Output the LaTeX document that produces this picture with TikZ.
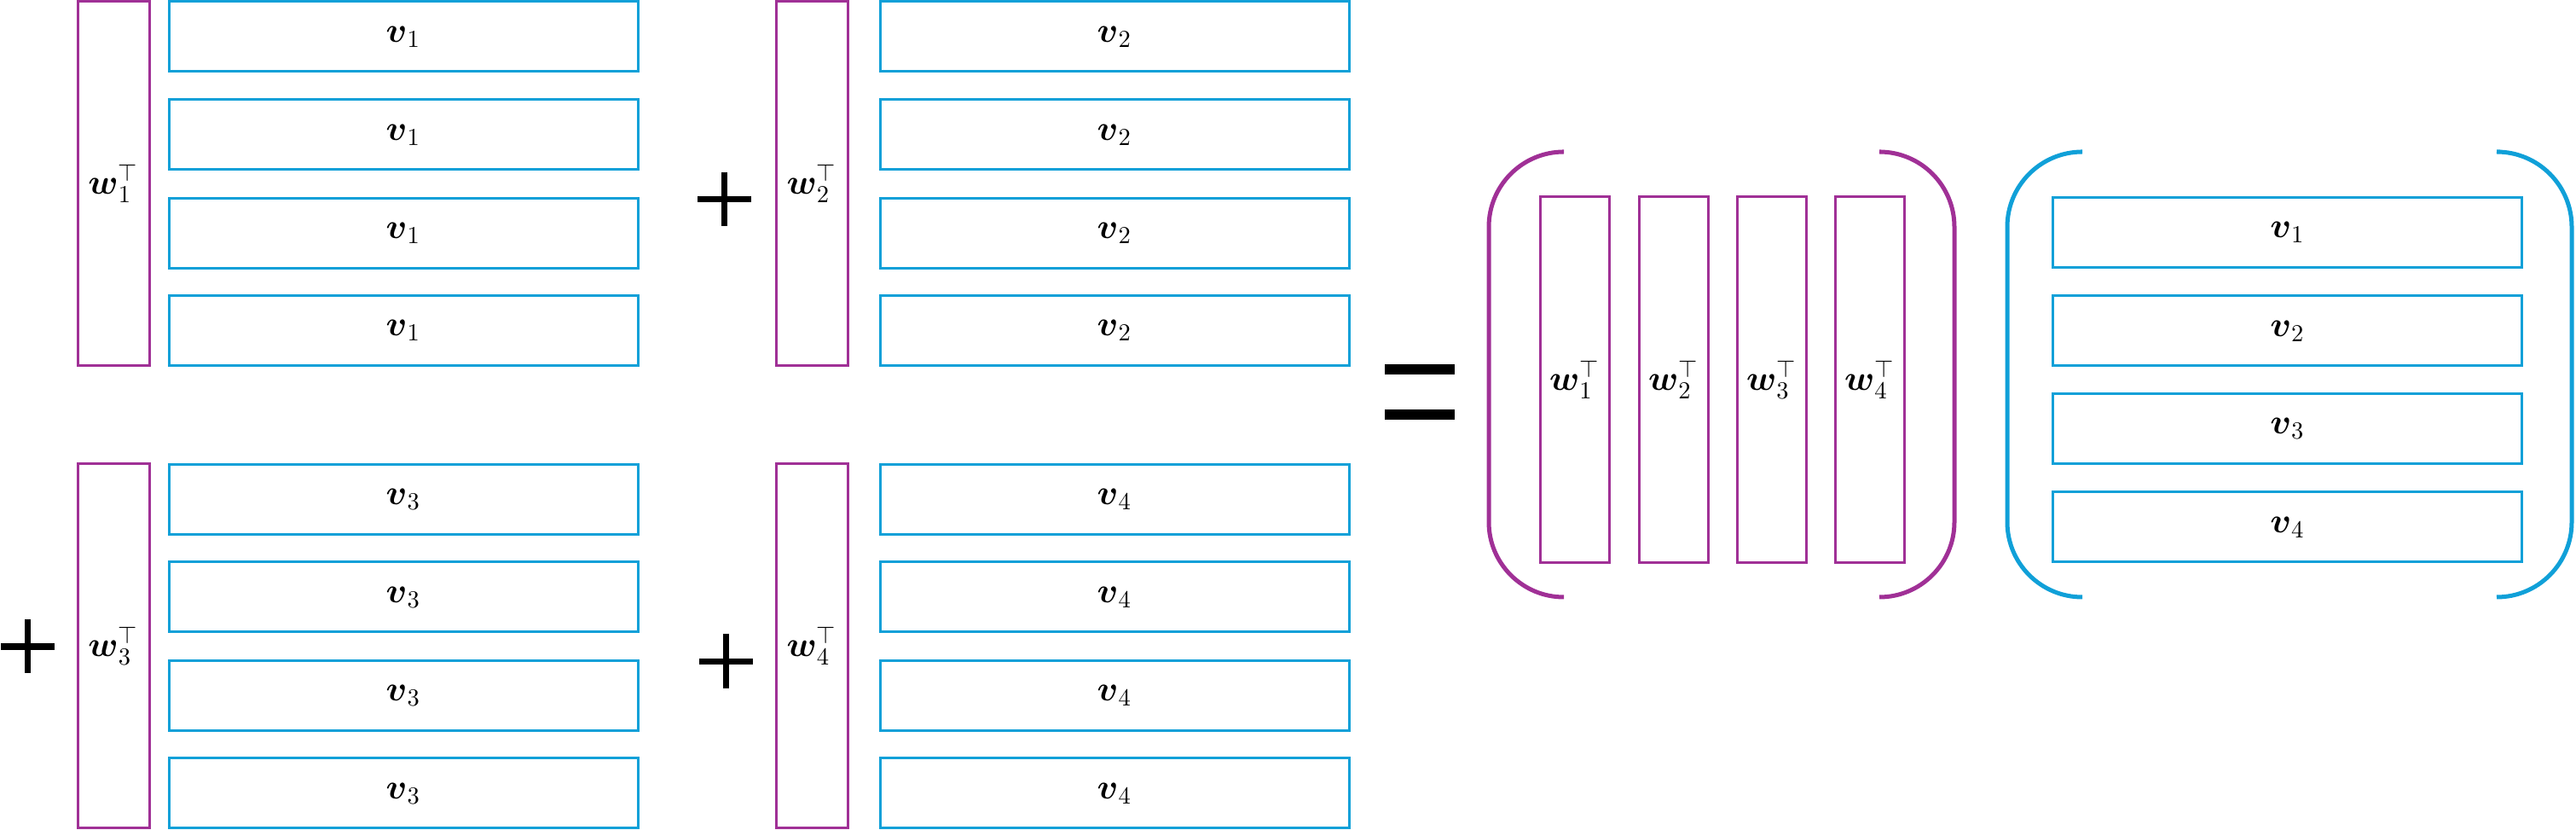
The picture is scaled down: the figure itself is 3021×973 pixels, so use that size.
\documentclass[tikz,border=0pt]{standalone}
\usepackage{amsmath}
\definecolor{wpurple}{RGB}{160,48,150}
\definecolor{vblue}{RGB}{16,160,216}
\newcommand\pxu{0.35pt}
\begin{document}
\begin{tikzpicture}[x=0.35pt,y=-0.35pt,
  wbox/.style={draw=wpurple, line width=1.05pt, minimum width=84*\pxu, minimum height=427*\pxu, inner sep=0pt, font=\Large},
  rwbox/.style={wbox, minimum width=81*\pxu, minimum height=429*\pxu},
  vbox/.style={draw=vblue, line width=1.05pt, minimum width=550*\pxu, minimum height=82*\pxu, inner sep=0pt, font=\Large},
  opline/.style={line width=2.6pt, black},
  eqbar/.style={fill=black},
  paren/.style={line width=1.75pt, rounded corners=30.8pt}]
\useasboundingbox (0,0) rectangle (3021,973);

% top-left group
\node[wbox] (w1) at (133,215.5) {$\boldsymbol{w}_1^{\top}$};
\foreach \y [count=\i] in {43,158,273.5,387.5}
  \node[vbox] (v1\i) at (473,\y) {$\boldsymbol{v}_1$};

% top-right group
\node[wbox] (w2) at (952,215.5) {$\boldsymbol{w}_2^{\top}$};
\foreach \y [count=\i] in {43,158,273.5,387.5}
  \node[vbox] (v2\i) at (1307,\y) {$\boldsymbol{v}_2$};

% bottom-left group
\node[wbox] (w3) at (133,757.5) {$\boldsymbol{w}_3^{\top}$};
\foreach \y [count=\i] in {585.5,700,815.5,930}
  \node[vbox] (v3\i) at (473,\y) {$\boldsymbol{v}_3$};

% bottom-right group
\node[wbox] (w4) at (952,757.5) {$\boldsymbol{w}_4^{\top}$};
\foreach \y [count=\i] in {585.5,700,815.5,930}
  \node[vbox] (v4\i) at (1307,\y) {$\boldsymbol{v}_4$};

% plus signs
\draw[opline] (818,233.5) -- (881,233.5) (849.5,202) -- (849.5,265);
\draw[opline] (820,775.5) -- (883,775.5) (851.5,743) -- (851.5,807);
\draw[opline] (1,758) -- (64,758) (32.5,726) -- (32.5,789);

% equals sign
\fill[eqbar] (1624,427) rectangle (1706,439);
\fill[eqbar] (1624,480) rectangle (1706,492);

% W matrix
\foreach \x [count=\i] in {1846.5,1962.5,2077.5,2192.5}
  \node[rwbox] (W\i) at (\x,445.5) {$\boldsymbol{w}_\i^{\top}$};
\draw[paren, wpurple] (1832,178) -- (1746,178) -- (1746,700) -- (1832,700);
\draw[paren, wpurple] (2206,178) -- (2292,178) -- (2292,700) -- (2206,700);

% V matrix
\foreach \y [count=\i] in {272.5,388,502.5,618}
  \node[vbox] (V\i) at (2682.5,\y) {$\boldsymbol{v}_\i$};
\draw[paren, vblue] (2440,178) -- (2354,178) -- (2354,700) -- (2440,700);
\draw[paren, vblue] (2932,178) -- (3016,178) -- (3016,700) -- (2932,700);
\end{tikzpicture}
\end{document}
